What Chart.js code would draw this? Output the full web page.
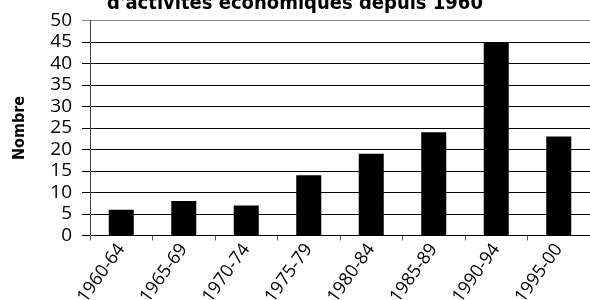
<!DOCTYPE html>
<html>
<head>
<meta charset="utf-8">
<script src="https://cdn.jsdelivr.net/npm/chart.js@4/dist/chart.umd.min.js"></script>
<style>
html,body{margin:0;padding:0;background:#fff;}
#wrap{position:relative;width:590px;height:300px;overflow:hidden;}
#c{position:absolute;left:0;top:-11px;}
</style>
</head>
<body>
<div id="wrap"><canvas id="c" width="590" height="320"></canvas></div>
<script>
const categories = ["1960-64","1965-69","1970-74","1975-79","1980-84","1985-89","1990-94","1995-00"];
const counts = [6, 8, 7, 14, 19, 24, 45, 23];
const titleText = "d'activités économiques depuis 1960";
const yAxisTitle = "Nombre";

const narrow = "'Liberation Sans Narrow', 'DejaVu Sans Condensed', sans-serif";

new Chart(document.getElementById('c'), {
  type: 'bar',
  data: {
    labels: categories,
    datasets: [{
      data: counts,
      backgroundColor: '#000',
      borderWidth: 0,
      categoryPercentage: 1,
      barPercentage: 0.4
    }]
  },
  options: {
    responsive: false,
    animation: false,
    devicePixelRatio: 1,
    layout: { padding: { left: 0, right: 0, top: 0, bottom: 0 } },
    plugins: {
      legend: { display: false },
      tooltip: { enabled: false },
      title: {
        display: true,
        text: titleText,
        color: '#000',
        font: { family: narrow, size: 20, weight: 'bold' },
        padding: { top: 3, bottom: 4.5 }
      }
    },
    scales: {
      x: {
        grid: { display: true, drawOnChartArea: false, drawTicks: true, tickLength: 5, color: '#555', offset: true },
        border: { display: true, color: '#000' },
        ticks: {
          autoSkip: false,
          color: '#000',
          font: { family: "'Open Sans', sans-serif", size: 18 },
          minRotation: 54, maxRotation: 54,
          padding: -1
        },
        afterFit: s => { s.height = 73.5; }
      },
      y: {
        min: 0, max: 50,
        ticks: {
          autoSkip: false,
          stepSize: 5,
          color: '#000',
          font: { family: "'Open Sans', 'DejaVu Sans', sans-serif", size: 19 },
          padding: 10
        },
        grid: {
          color: ctx => (ctx.tick && ctx.tick.value === 50) ? '#888' : '#000',
          lineWidth: 1,
          tickLength: 8
        },
        border: { display: true, color: '#444' },
        title: {
          display: true,
          text: yAxisTitle,
          color: '#000',
          font: { family: narrow, size: 16, weight: 'bold' },
          padding: { top: 10, bottom: 0 }
        },
        afterFit: s => { s.width = 90; }
      }
    }
  }
});
</script>
</body>
</html>
